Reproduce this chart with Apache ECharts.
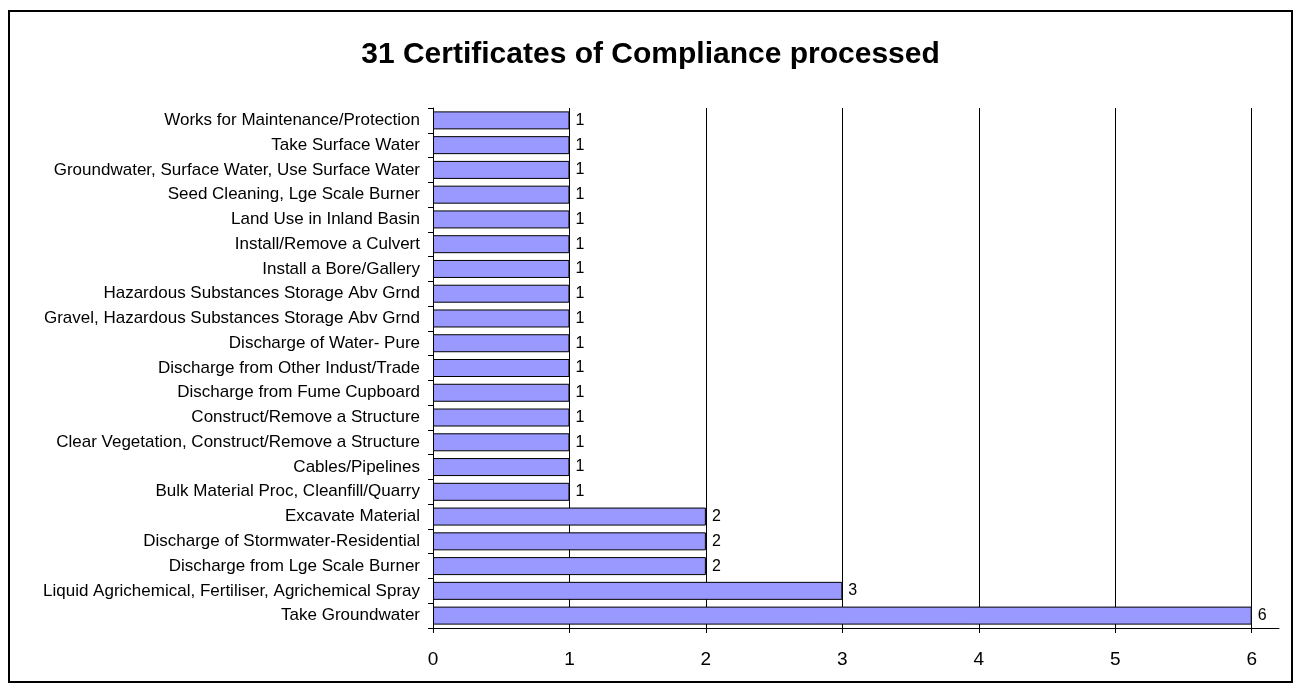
<!DOCTYPE html>
<html>
<head>
<meta charset="utf-8">
<script src="https://cdn.jsdelivr.net/npm/echarts@6/dist/echarts.min.js"></script>
<style>
  html, body { margin: 0; padding: 0; background: #fff; }
  #chart { width: 1301px; height: 691px; }
</style>
</head>
<body>
<div id="chart"></div>
<script>
// categories listed top to bottom as in the picture
var categories = [
  'Works for Maintenance/Protection',
  'Take Surface Water',
  'Groundwater, Surface Water, Use Surface Water',
  'Seed Cleaning, Lge Scale Burner',
  'Land Use in Inland Basin',
  'Install/Remove a Culvert',
  'Install a Bore/Gallery',
  'Hazardous Substances Storage Abv Grnd',
  'Gravel, Hazardous Substances Storage Abv Grnd',
  'Discharge of Water- Pure',
  'Discharge from Other Indust/Trade',
  'Discharge from Fume Cupboard',
  'Construct/Remove a Structure',
  'Clear Vegetation, Construct/Remove a Structure',
  'Cables/Pipelines',
  'Bulk Material Proc, Cleanfill/Quarry',
  'Excavate Material',
  'Discharge of Stormwater-Residential',
  'Discharge from Lge Scale Burner',
  'Liquid Agrichemical, Fertiliser, Agrichemical Spray',
  'Take Groundwater'
]
var counts = [1, 1, 1, 1, 1, 1, 1, 1, 1, 1, 1, 1, 1, 1, 1, 1, 2, 2, 2, 3, 6]
var xTicks = [0, 1, 2, 3, 4, 5, 6]
var titleText = '31 Certificates of Compliance processed'

var chart = echarts.init(document.getElementById('chart'))

var option = {
  animation: false,
  textStyle: { fontFamily: 'Liberation Sans, Arial, sans-serif' },
  title: {
    text: titleText,
    left: 'center',
    top: 35,
    textStyle: { fontSize: 30, fontWeight: 'bold', color: '#000' }
  },
  // outer frame
  graphic: [{
    type: 'rect',
    shape: { x: 9, y: 11, width: 1283, height: 671 },
    style: { fill: 'none', stroke: '#000', lineWidth: 2 },
    silent: true
  }],
  grid: { left: 433, top: 108, right: 22, bottom: 63, containLabel: false },
  xAxis: {
    type: 'value',
    min: 0,
    max: 6.2,
    interval: 1,
    axisLine: { show: true, lineStyle: { color: '#000', width: 1 } },
    axisTick: { show: true, length: 5, customValues: xTicks, lineStyle: { color: '#000' } },
    axisLabel: {
      customValues: xTicks,
      color: '#000',
      fontSize: 19,
      margin: 22
    },
    splitLine: { show: true, showMinLine: false, showMaxLine: true, lineStyle: { color: '#000', width: 1 } }
  },
  yAxis: {
    type: 'category',
    data: categories,
    inverse: true,
    axisLine: { show: true, lineStyle: { color: '#000', width: 1 } },
    axisTick: { show: true, length: 5, lineStyle: { color: '#000' } },
    axisLabel: { color: '#000', fontSize: 17, margin: 13 }
  },
  series: [{
    type: 'bar',
    data: counts,
    barWidth: 18,
    itemStyle: { color: '#9999ff', borderColor: '#000', borderWidth: 1 },
    label: {
      show: true,
      position: 'right',
      distance: 6,
      color: '#000',
      fontSize: 16
    }
  }]
}

chart.setOption(option)
</script>
</body>
</html>
